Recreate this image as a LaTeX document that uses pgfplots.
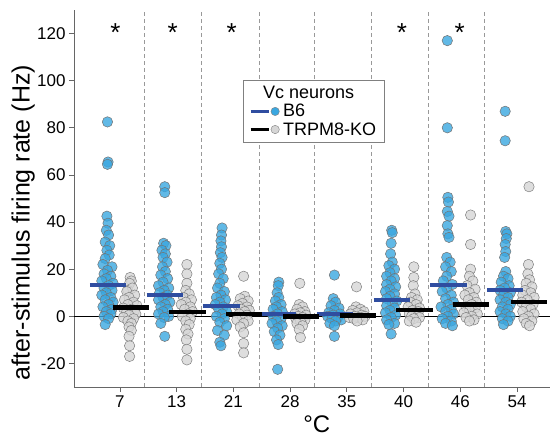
\documentclass[border=0pt]{standalone}
\usepackage{fontspec}
\setmainfont{Liberation Sans}
\usepackage{pgfplots}
\pgfplotsset{compat=1.18}

\definecolor{ptblue}{HTML}{3AA7E0}
\definecolor{ptgray}{HTML}{D6D6D6}
\definecolor{medblue}{HTML}{2F4DA0}
\definecolor{axgray}{HTML}{666666}

\begin{document}
\begin{tikzpicture}
\begin{axis}[
  scale only axis, width=476pt, height=377pt,
  xmin=0.19, xmax=8.58, ymin=-30, ymax=130,
  clip marker paths=true,
  axis lines=left,
  axis line style={-, axgray, line width=0.8pt},
  tick align=outside, major tick length=5pt,
  tick style={axgray, line width=0.8pt},
  xtick={1,...,8}, xticklabels={7,13,21,28,35,40,46,54},
  ytick={-20,0,...,120}, yticklabels={-20,0,20,40,60,80,100,120},
  tick label style={font=\fontsize{17}{20}\selectfont},
  extra x ticks={1.43,2.43,3.45,4.43,5.43,6.43,7.42},
  extra x tick labels={},
  extra x tick style={grid=major, major tick length=0pt,
    major grid style={dash pattern=on 4pt off 3pt, gray!80, line width=0.7pt}},
  extra y ticks={0}, extra y tick labels={},
  extra y tick style={grid=major, major tick length=0pt,
    major grid style={black, line width=0.7pt}},
  ylabel={after-stimulus firing rate (Hz)},
  ylabel style={font=\fontsize{25}{28}\selectfont, at={(axis description cs:-0.107,0.436)}, anchor=center},
  xlabel={°C},
  xlabel style={font=\fontsize{24}{26}\selectfont, at={(axis description cs:0.51,-0.1)}, anchor=center},
  legend style={at={(0.354,0.814)}, anchor=north west, draw=gray, line width=0.8pt,
    fill=white, font=\fontsize{18}{20}\selectfont, cells={anchor=west},
    inner xsep=6pt, inner ysep=4pt, row sep=0pt},
  bluepts/.style={only marks, mark=*, mark size=5.2pt, forget plot,
    mark options={fill=ptblue, draw=black!55, line width=0.5pt, fill opacity=0.8}},
  graypts/.style={only marks, mark=*, mark size=5.2pt, forget plot,
    mark options={fill=ptgray, draw=black!50, line width=0.5pt, fill opacity=0.8}},
]
\coordinate (O) at (rel axis cs:0,0);

% B6 neurons
\addplot[bluepts] table[row sep=\\] {
x y\\
0.78 82.5\\ 0.79 65.5\\ 0.78 64.5\\ 0.77 42.5\\ 0.79 39.5\\ 0.76 36.5\\ 0.80 34.5\\ 0.74 31.5\\ 0.82 30\\ 0.77 28\\ 0.81 26\\ 0.74 24.5\\ 0.70 22\\ 0.86 21\\ 0.78 19.5\\ 0.72 18\\ 0.84 17\\ 0.76 16\\ 0.68 15\\ 0.88 14\\ 0.80 13\\ 0.72 12\\ 0.86 11\\ 0.76 10\\ 0.68 9\\ 0.84 8\\ 0.74 7\\ 0.88 6\\ 0.80 5\\ 0.70 4\\ 0.86 3\\ 0.76 2\\ 0.84 1\\ 0.72 0\\ 0.80 -1\\ 0.74 -3.5\\
1.79 55\\ 1.79 52.5\\ 1.77 31\\ 1.81 30\\ 1.74 28\\ 1.80 26.5\\ 1.76 25\\ 1.83 23\\ 1.75 21\\ 1.80 19\\ 1.72 17.5\\ 1.84 16\\ 1.76 14.5\\ 1.68 13\\ 1.86 12\\ 1.78 11\\ 1.70 10\\ 1.84 9\\ 1.76 8\\ 1.68 7\\ 1.88 6\\ 1.80 5\\ 1.72 4\\ 1.84 3\\ 1.76 2\\ 1.68 1\\ 1.86 0\\ 1.78 -0.5\\ 1.72 -3\\ 1.79 -8.5\\
2.80 37.5\\ 2.79 34.5\\ 2.78 32\\ 2.79 29.5\\ 2.77 27\\ 2.80 25\\ 2.76 22.5\\ 2.79 20\\ 2.74 18\\ 2.82 16\\ 2.76 14\\ 2.72 12\\ 2.84 10.5\\ 2.78 9\\ 2.70 8\\ 2.86 7\\ 2.76 6\\ 2.68 5\\ 2.82 4\\ 2.74 3\\ 2.88 2\\ 2.80 1\\ 2.70 0\\ 2.84 -1\\ 2.76 -2.5\\ 2.88 -4\\ 2.72 -6\\ 2.84 -8\\ 2.76 -11\\ 2.78 -12.5\\
3.80 14.5\\ 3.79 13\\ 3.77 10\\ 3.80 8\\ 3.74 6.5\\ 3.84 5\\ 3.76 4\\ 3.70 3\\ 3.86 2\\ 3.78 1\\ 3.70 0\\ 3.84 -1\\ 3.76 -2\\ 3.68 -3\\ 3.86 -4\\ 3.78 -5\\ 3.72 -6.5\\ 3.82 -8\\ 3.76 -10\\ 3.79 -12\\ 3.78 -22.5\\
4.78 17.5\\ 4.76 7.5\\ 4.80 6\\ 4.72 4.5\\ 4.86 3.5\\ 4.78 2.5\\ 4.68 1.5\\ 4.88 1\\ 4.76 0.5\\ 4.66 0\\ 4.84 -0.5\\ 4.74 -1\\ 4.90 -1.5\\ 4.80 -2\\ 4.70 -3\\ 4.78 -4\\ 4.78 -8.5\\
5.79 36.5\\ 5.80 35.5\\ 5.78 31\\ 5.77 26.5\\ 5.80 23\\ 5.74 21.5\\ 5.84 20\\ 5.76 18.5\\ 5.70 17\\ 5.84 16\\ 5.78 15\\ 5.70 13.5\\ 5.86 12.5\\ 5.76 11.5\\ 5.68 10.5\\ 5.84 9.5\\ 5.76 8.5\\ 5.70 7.5\\ 5.88 6.5\\ 5.80 5.5\\ 5.70 4.5\\ 5.84 3.5\\ 5.76 2.5\\ 5.68 1.5\\ 5.86 0.5\\ 5.78 -0.5\\ 5.70 -1.5\\ 5.84 -3\\ 5.74 -3.5\\ 5.78 -7.5\\
6.77 117\\ 6.77 80\\ 6.78 50.5\\ 6.79 48.5\\ 6.77 44.5\\ 6.80 42.5\\ 6.77 38.5\\ 6.78 35\\ 6.80 33.5\\ 6.76 25\\ 6.82 23\\ 6.74 21\\ 6.84 19\\ 6.76 17\\ 6.70 15\\ 6.86 13.5\\ 6.76 12\\ 6.68 10.5\\ 6.84 9\\ 6.74 7.5\\ 6.88 6\\ 6.78 5\\ 6.66 4\\ 6.84 3\\ 6.74 2\\ 6.88 1\\ 6.78 0\\ 6.68 -1\\ 6.84 -2\\ 6.74 -3\\ 6.86 -4\\
7.79 87\\ 7.79 74.5\\ 7.80 36\\ 7.82 35\\ 7.81 33\\ 7.79 30.5\\ 7.80 27.5\\ 7.78 25\\ 7.80 19\\ 7.76 17\\ 7.84 16\\ 7.72 14.5\\ 7.86 13\\ 7.78 12\\ 7.70 11\\ 7.88 10\\ 7.76 9\\ 7.84 8\\ 7.70 7\\ 7.80 6\\ 7.88 5\\ 7.74 4\\ 7.84 3\\ 7.70 2\\ 7.80 1\\ 7.88 0\\ 7.74 -1\\ 7.84 -2\\ 7.76 -3.5\\
};

% TRPM8-KO neurons
\addplot[graypts] table[row sep=\\] {
x y\\
1.18 16.5\\ 1.20 15\\ 1.17 14\\ 1.14 11\\ 1.22 12\\ 1.12 10.5\\ 1.26 9\\ 1.16 8\\ 1.08 7\\ 1.24 6\\ 1.14 5\\ 1.30 4.5\\ 1.06 3.5\\ 1.20 3\\ 1.12 2\\ 1.26 2.5\\ 1.28 1\\ 1.16 0.5\\ 1.06 -0.5\\ 1.24 -1\\ 1.14 -2\\ 1.20 -3\\ 1.16 -4.5\\ 1.20 -6\\ 1.16 -8.5\\ 1.17 -12.5\\ 1.17 -17\\
2.18 22\\ 2.18 18\\ 2.18 14\\ 2.16 11\\ 2.22 9.5\\ 2.12 8\\ 2.26 7\\ 2.16 6\\ 2.08 5\\ 2.24 4\\ 2.14 3\\ 2.28 2\\ 2.20 1\\ 2.10 0\\ 2.24 -1\\ 2.16 -2\\ 2.22 -3.5\\ 2.16 -5.5\\ 2.20 -7.5\\ 2.17 -10\\ 2.18 -14\\ 2.18 -18.5\\
3.18 17\\ 3.20 8.5\\ 3.12 7.5\\ 3.26 6.5\\ 3.16 5.5\\ 3.08 4.5\\ 3.24 4\\ 3.14 3\\ 3.28 2.5\\ 3.20 2\\ 3.10 1\\ 3.24 0.5\\ 3.16 -0.5\\ 3.06 -1.5\\ 3.26 -2\\ 3.18 -3\\ 3.12 -4.5\\ 3.18 -7\\ 3.18 -11.5\\ 3.18 -15.5\\
4.17 14\\ 4.16 5\\ 4.22 4\\ 4.12 3\\ 4.26 2\\ 4.18 1.5\\ 4.08 1\\ 4.28 0.5\\ 4.14 0\\ 4.22 -0.5\\ 4.10 -1\\ 4.26 -1.5\\ 4.18 -2\\ 4.12 -3\\ 4.22 -4\\ 4.16 -5.5\\ 4.18 -9\\
5.17 12.5\\ 5.16 4\\ 5.24 3\\ 5.10 2.5\\ 5.30 2\\ 5.18 1.5\\ 5.06 1\\ 5.26 0.5\\ 5.14 0\\ 5.32 0\\ 5.04 -0.5\\ 5.22 -0.5\\ 5.12 -1\\ 5.28 -1.5\\ 5.18 -2\\
6.18 21\\ 6.18 16.5\\ 6.17 13\\ 6.20 9.5\\ 6.14 8\\ 6.24 7\\ 6.12 6\\ 6.22 5\\ 6.08 4\\ 6.28 3.5\\ 6.16 2.5\\ 6.26 2\\ 6.10 1\\ 6.22 0.5\\ 6.14 0\\ 6.28 -0.5\\ 6.18 -1\\ 6.10 -2\\ 6.22 -2.5\\
7.18 43\\ 7.18 30.5\\ 7.18 20\\ 7.16 17\\ 7.22 15\\ 7.12 13\\ 7.26 11.5\\ 7.16 10\\ 7.08 9\\ 7.24 8\\ 7.14 7\\ 7.28 6\\ 7.20 5\\ 7.10 4\\ 7.26 3.5\\ 7.16 2.5\\ 7.06 1.5\\ 7.30 1\\ 7.20 0\\ 7.10 -0.5\\ 7.24 -1.5\\ 7.16 -2\\
8.21 55\\ 8.20 22\\ 8.19 18\\ 8.22 15.5\\ 8.16 14\\ 8.26 12.5\\ 8.14 11\\ 8.24 10\\ 8.10 9\\ 8.30 8\\ 8.18 7\\ 8.08 6\\ 8.28 5\\ 8.16 4\\ 8.24 3\\ 8.10 2\\ 8.30 1\\ 8.20 0\\ 8.12 -1\\ 8.26 -2\\ 8.16 -3\\ 8.22 -4\\
};

% medians
\addplot[medblue, line width=4pt, unbounded coords=jump, forget plot] coordinates {
(0.47,13.1) (1.11,13.1) (1,nan) (1.47,9.1) (2.11,9.1) (2,nan)
(2.47,4.3) (3.11,4.3) (3,nan) (3.47,1.0) (4.11,1.0) (4,nan)
(4.47,1.0) (5.11,1.0) (5,nan) (5.47,6.8) (6.11,6.8) (6,nan)
(6.47,13.5) (7.11,13.5) (7,nan) (7.47,11.1) (8.11,11.1)
};
\addplot[black, line width=4.5pt, unbounded coords=jump, forget plot] coordinates {
(0.87,3.8) (1.51,3.8) (1,nan) (1.87,1.9) (2.51,1.9) (2,nan)
(2.87,1.0) (3.51,1.0) (3,nan) (3.87,0) (4.51,0) (4,nan)
(4.87,0.3) (5.51,0.3) (5,nan) (5.87,2.6) (6.51,2.6) (6,nan)
(6.87,5) (7.51,5) (7,nan) (7.9,6) (8.52,6)
};

% significance marks
\foreach \sx in {0.92,1.93,2.97,5.97,6.99}
  {\edef\tmp{\noexpand\node[font=\noexpand\fontsize{26}{26}\noexpand\selectfont, anchor=base] at (axis cs:\sx,116.5) {*};}\tmp}

\addlegendimage{empty legend}
\addlegendentry{\hspace{-20pt}Vc neurons}
\addlegendimage{legend image code/.code={
  \draw[line width=3pt, medblue] (0pt,0pt) -- (18pt,0pt);
  \draw[fill=ptblue, draw=black!50, line width=0.4pt] (24.5pt,0pt) circle (4.2pt);
  \path (30pt,0pt);}}
\addlegendentry{B6}
\addlegendimage{legend image code/.code={
  \draw[line width=3.5pt, black] (0pt,0pt) -- (18pt,0pt);
  \draw[fill=ptgray, draw=black!50, line width=0.4pt] (24.5pt,0pt) circle (4.2pt);
  \path (30pt,0pt);}}
\addlegendentry{TRPM8-KO}
\end{axis}
\pgfresetboundingbox
\path[use as bounding box] ([xshift=-74pt,yshift=-50pt]O) rectangle ++(550pt,437pt);
\end{tikzpicture}
\end{document}
